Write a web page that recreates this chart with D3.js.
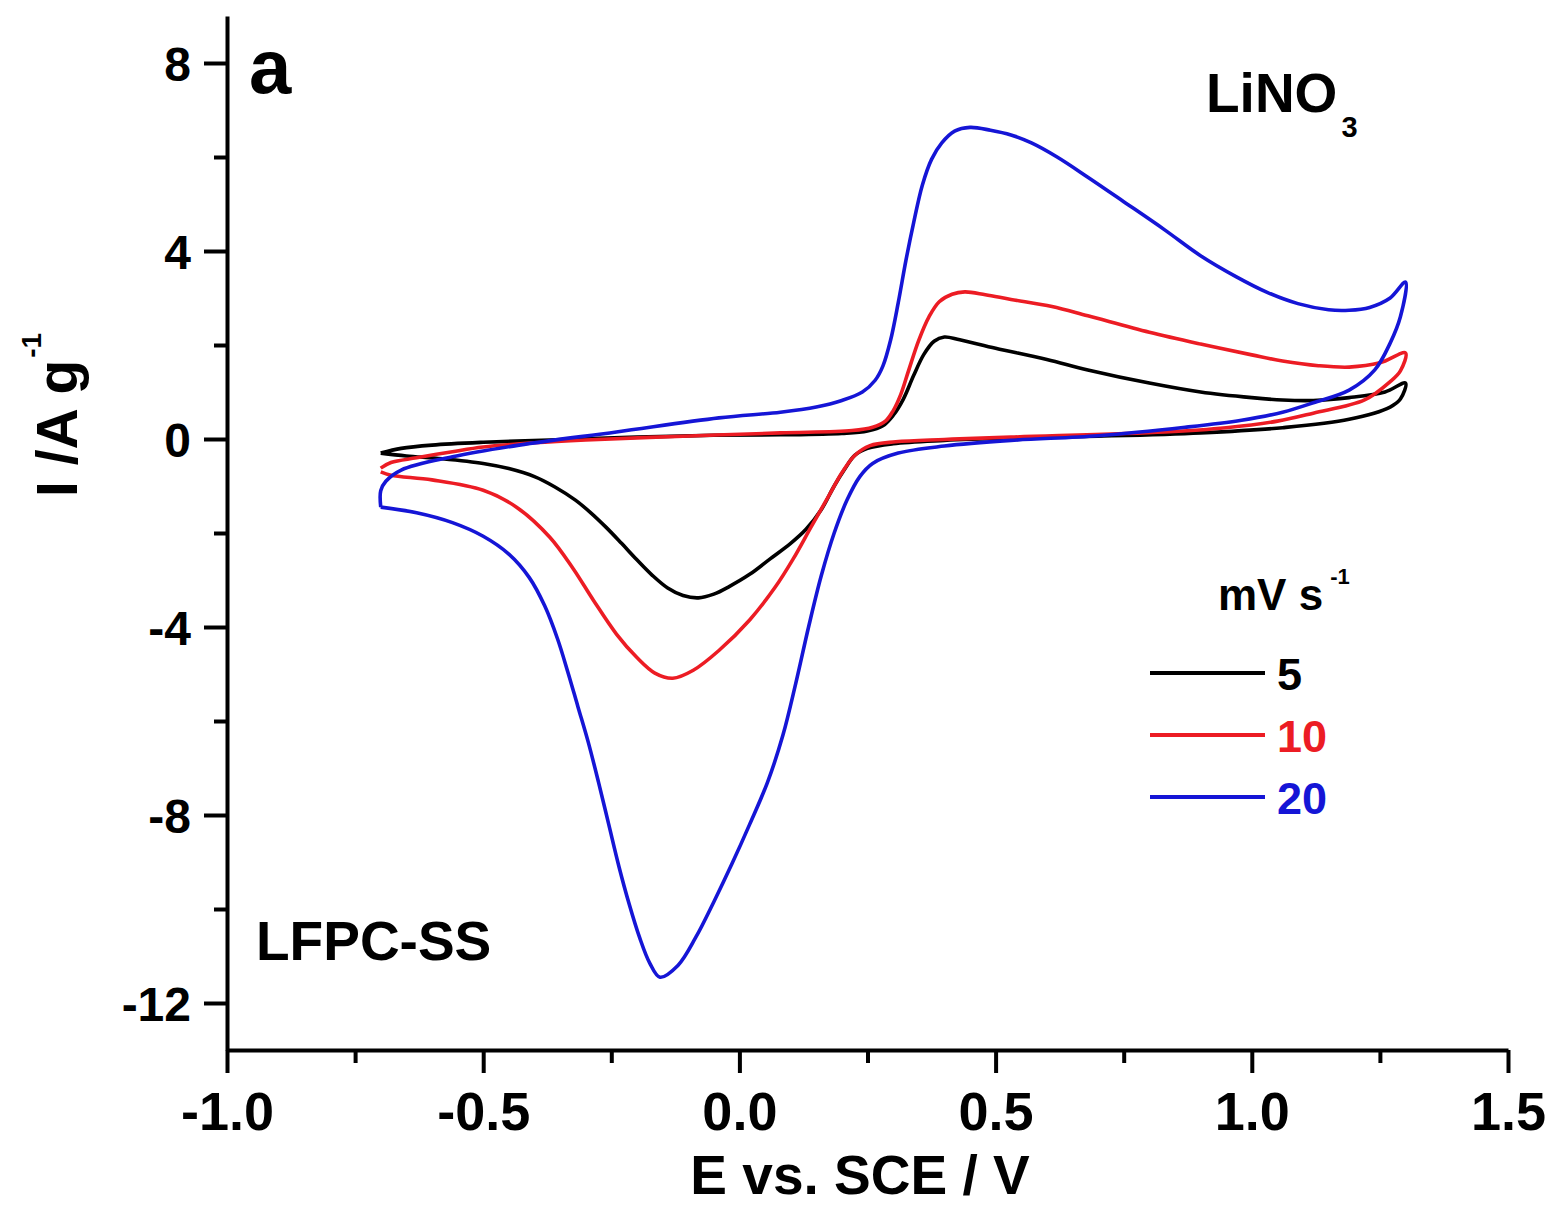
<!DOCTYPE html>
<html>
<head>
<meta charset="utf-8">
<script src="https://cdn.jsdelivr.net/npm/d3@7"></script>
<style>
  html, body { margin: 0; padding: 0; background: #fff; }
  svg { display: block; font-family: "Liberation Sans", Arial, sans-serif; font-weight: bold; }
</style>
</head>
<body>
<svg id="chart" width="1556" height="1208"></svg>
<script>
// ---- data (E vs. SCE / V, I / A g^-1), loop: anodic sweep then cathodic sweep ----
const scanRates = ["5", "10", "20"];
const colors = ["#000000", "#ec1c24", "#1515d6"];

const curve5 = [
  [-0.70, -0.30], [-0.66, -0.20], [-0.60, -0.13], [-0.50, -0.07], [-0.37, -0.02],
  [-0.20, 0.04], [-0.05, 0.08], [0.08, 0.09], [0.20, 0.12], [0.25, 0.17],
  [0.28, 0.28], [0.30, 0.50], [0.32, 0.85], [0.34, 1.35], [0.36, 1.80],
  [0.38, 2.08], [0.40, 2.17], [0.43, 2.11], [0.50, 1.93], [0.60, 1.69],
  [0.68, 1.47], [0.80, 1.19], [0.90, 1.00], [1.00, 0.88], [1.06, 0.83],
  [1.12, 0.82], [1.19, 0.88], [1.26, 1.00], [1.30, 1.19],
  [1.29, 0.85], [1.27, 0.68], [1.19, 0.42], [1.06, 0.24], [0.90, 0.13],
  [0.70, 0.06], [0.53, 0.02], [0.40, -0.03], [0.30, -0.10], [0.25, -0.20],
  [0.225, -0.35], [0.205, -0.65], [0.185, -1.00], [0.16, -1.50], [0.13, -1.92],
  [0.10, -2.22], [0.06, -2.55], [0.02, -2.88], [-0.02, -3.14], [-0.05, -3.30],
  [-0.08, -3.38], [-0.11, -3.33], [-0.14, -3.17], [-0.17, -2.90], [-0.20, -2.57],
  [-0.23, -2.22], [-0.26, -1.88], [-0.29, -1.57], [-0.32, -1.30], [-0.36, -1.02],
  [-0.40, -0.80], [-0.45, -0.63], [-0.50, -0.52], [-0.58, -0.42], [-0.65, -0.36],
  [-0.70, -0.30]
];

const curve10 = [
  [-0.70, -0.62], [-0.68, -0.50], [-0.63, -0.40], [-0.56, -0.27], [-0.50, -0.17],
  [-0.40, -0.08], [-0.30, -0.02], [-0.11, 0.06], [0.08, 0.13], [0.22, 0.18],
  [0.26, 0.25], [0.285, 0.38], [0.30, 0.60], [0.315, 0.95], [0.33, 1.45],
  [0.35, 2.10], [0.37, 2.60], [0.39, 2.92], [0.415, 3.08], [0.44, 3.13],
  [0.48, 3.07], [0.53, 2.97], [0.61, 2.82], [0.68, 2.62], [0.80, 2.27],
  [0.90, 2.02], [1.00, 1.79], [1.06, 1.66], [1.13, 1.56], [1.19, 1.53],
  [1.25, 1.62], [1.30, 1.83],
  [1.29, 1.45], [1.27, 1.22], [1.22, 0.83], [1.12, 0.55], [1.05, 0.38],
  [0.95, 0.24], [0.83, 0.15], [0.53, 0.04], [0.40, -0.01], [0.305, -0.06],
  [0.255, -0.14], [0.225, -0.35], [0.20, -0.72], [0.175, -1.20], [0.14, -1.87],
  [0.105, -2.55], [0.07, -3.15], [0.02, -3.85], [-0.04, -4.50], [-0.09, -4.92],
  [-0.13, -5.09], [-0.165, -4.98], [-0.20, -4.65], [-0.24, -4.15], [-0.285, -3.43],
  [-0.325, -2.75], [-0.37, -2.09], [-0.435, -1.45], [-0.50, -1.09], [-0.60, -0.87],
  [-0.68, -0.77], [-0.70, -0.70]
];

const curve20 = [
  [-0.70, -1.45], [-0.70, -1.10], [-0.69, -0.90], [-0.66, -0.66], [-0.56, -0.38],
  [-0.43, -0.13], [-0.24, 0.15], [-0.04, 0.45], [0.08, 0.57], [0.15, 0.68],
  [0.20, 0.82], [0.24, 1.00], [0.265, 1.25], [0.28, 1.55], [0.295, 2.10],
  [0.31, 2.90], [0.325, 3.80], [0.34, 4.60], [0.357, 5.40], [0.375, 5.95],
  [0.395, 6.30], [0.42, 6.55], [0.45, 6.63], [0.49, 6.57], [0.53, 6.47],
  [0.57, 6.30], [0.62, 6.00], [0.68, 5.57], [0.75, 5.05], [0.83, 4.45],
  [0.90, 3.90], [0.97, 3.45], [1.03, 3.12], [1.09, 2.88], [1.15, 2.75],
  [1.19, 2.74], [1.23, 2.80], [1.27, 3.00], [1.30, 3.34],
  [1.29, 2.60], [1.27, 2.04], [1.24, 1.47], [1.19, 1.04], [1.12, 0.77],
  [1.06, 0.57], [0.98, 0.40], [0.87, 0.25], [0.70, 0.07], [0.53, -0.03],
  [0.40, -0.15], [0.31, -0.30], [0.26, -0.52], [0.235, -0.80], [0.21, -1.30],
  [0.185, -2.00], [0.16, -2.90], [0.135, -4.00], [0.11, -5.20], [0.085, -6.30],
  [0.055, -7.30], [0.02, -8.20], [-0.015, -9.05], [-0.05, -9.85], [-0.085, -10.60],
  [-0.12, -11.20], [-0.155, -11.45], [-0.175, -11.15], [-0.195, -10.60], [-0.215, -9.90],
  [-0.235, -9.10], [-0.255, -8.20], [-0.275, -7.30], [-0.295, -6.45], [-0.315, -5.70],
  [-0.335, -4.95], [-0.355, -4.25], [-0.38, -3.55], [-0.41, -2.95], [-0.45, -2.45],
  [-0.50, -2.07], [-0.56, -1.78], [-0.63, -1.57], [-0.70, -1.45]
];

const curves = [curve5, curve10, curve20];

const xTickValues = [-1.0, -0.5, 0.0, 0.5, 1.0, 1.5];
const xMinorValues = [-0.75, -0.25, 0.25, 0.75, 1.25];
const yTickValues = [-12, -8, -4, 0, 4, 8];
const yMinorValues = [-10, -6, -2, 2, 6];

// ---- layout ----
const svg = d3.select("#chart");
const x = d3.scaleLinear().domain([-1.0, 1.5]).range([227, 1508]);
const y = d3.scaleLinear().domain([-13, 9]).range([1050, 16]);

const fmtX = d => (d < 0 ? "-" : "") + Math.abs(d).toFixed(1);
const fmtY = d => (d < 0 ? "-" : "") + Math.abs(d);

// curves
const line = d3.line()
  .x(d => x(d[0]))
  .y(d => y(d[1]))
  .curve(d3.curveCatmullRom.alpha(0.5));

svg.append("g").selectAll("path")
  .data(curves)
  .join("path")
  .attr("d", line)
  .attr("fill", "none")
  .attr("stroke", (d, i) => colors[i])
  .attr("stroke-width", 3.6)
  .attr("stroke-linejoin", "round");

// x axis
const gx = svg.append("g").attr("transform", `translate(0,${y(-13)})`);
gx.call(d3.axisBottom(x).tickValues(xTickValues).tickFormat(fmtX).tickSize(23).tickSizeOuter(0));
svg.append("g").attr("transform", `translate(0,${y(-13)})`)
  .call(d3.axisBottom(x).tickValues(xMinorValues).tickFormat("").tickSize(13).tickSizeOuter(0))
  .select(".domain").remove();
gx.selectAll("text")
  .attr("y", 80).attr("dy", 0)
  .attr("font-size", 54).attr("font-weight", "bold")
  .attr("font-family", '"Liberation Sans", Arial, sans-serif')
  .attr("fill", "#000");

// y axis
const gy = svg.append("g").attr("transform", `translate(${x(-1)},0)`);
gy.call(d3.axisLeft(y).tickValues(yTickValues).tickFormat(fmtY).tickSize(23).tickSizeOuter(0));
svg.append("g").attr("transform", `translate(${x(-1)},0)`)
  .call(d3.axisLeft(y).tickValues(yMinorValues).tickFormat("").tickSize(13).tickSizeOuter(0))
  .select(".domain").remove();
gy.selectAll("text")
  .attr("x", -36).attr("dy", "0.36em")
  .attr("font-size", 48).attr("font-weight", "bold")
  .attr("font-family", '"Liberation Sans", Arial, sans-serif')
  .attr("fill", "#000");

svg.selectAll(".domain, .tick line")
  .attr("stroke", "#000")
  .attr("stroke-width", 4);

// axis titles
svg.append("text")
  .attr("x", 860).attr("y", 1194)
  .attr("text-anchor", "middle")
  .attr("font-size", 55)
  .text("E vs. SCE / V");

const yt = svg.append("text")
  .attr("transform", "translate(77,497) rotate(-90)")
  .attr("font-size", 57);
yt.append("tspan").text("I /A g");
yt.append("tspan").attr("font-size", 28).attr("dx", 2).attr("dy", -36).text("-1");

// annotations
svg.append("text").attr("x", 249).attr("y", 93).attr("font-size", 76).text("a");

const ln = svg.append("text").attr("x", 1206).attr("y", 112).attr("font-size", 55);
ln.append("tspan").text("LiNO");
ln.append("tspan").attr("font-size", 29).attr("dx", 4).attr("dy", 25).text("3");

svg.append("text").attr("x", 256).attr("y", 960).attr("font-size", 55).text("LFPC-SS");

// legend
const lt = svg.append("text").attr("x", 1218).attr("y", 610).attr("font-size", 44);
lt.append("tspan").text("mV s");
lt.append("tspan").attr("font-size", 22).attr("dx", 7).attr("dy", -26).text("-1");

const legY = [673, 735, 797];
const leg = svg.append("g").selectAll("g")
  .data(scanRates)
  .join("g");
leg.append("line")
  .attr("x1", 1150).attr("x2", 1265)
  .attr("y1", (d, i) => legY[i]).attr("y2", (d, i) => legY[i])
  .attr("stroke", (d, i) => colors[i])
  .attr("stroke-width", 4);
leg.append("text")
  .attr("x", 1277)
  .attr("y", (d, i) => legY[i] + 17)
  .attr("font-size", 45)
  .attr("fill", (d, i) => colors[i])
  .text(d => d);
</script>
</body>
</html>
